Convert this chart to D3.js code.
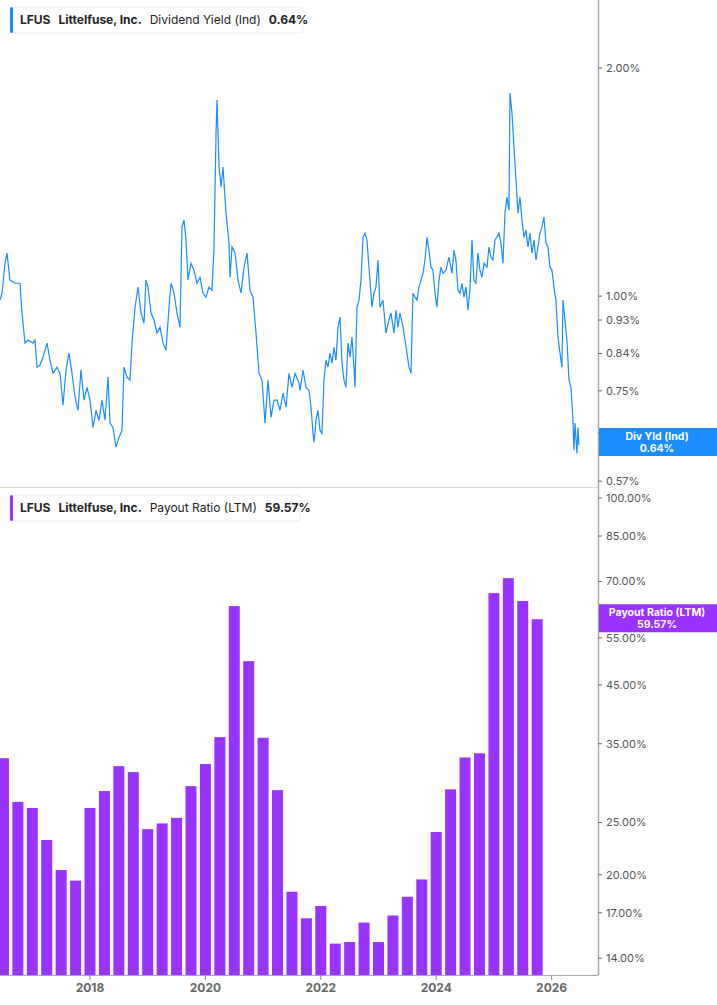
<!DOCTYPE html>
<html><head><meta charset="utf-8">
<script src="https://cdn.jsdelivr.net/npm/d3@7"></script>
<style>
body{margin:0;background:#fff;font-family:Inter,"Noto Sans",sans-serif;}
</style></head>
<body><div id="chart"></div>
<script>
// dividend yield (Ind), decimal year / percent
var yldYears = [2016.440,2016.475,2016.527,2016.561,2016.613,2016.700,2016.787,2016.821,2016.873,2016.925,2017.012,2017.047,2017.081,2017.133,2017.185,2017.255,2017.307,2017.359,2017.428,2017.480,2017.532,2017.584,2017.636,2017.688,2017.740,2017.792,2017.844,2017.896,2017.948,2018.000,2018.052,2018.104,2018.156,2018.208,2018.260,2018.312,2018.346,2018.398,2018.450,2018.502,2018.554,2018.589,2018.641,2018.693,2018.728,2018.780,2018.832,2018.884,2018.936,2018.970,2019.005,2019.057,2019.109,2019.161,2019.213,2019.265,2019.317,2019.369,2019.404,2019.456,2019.508,2019.560,2019.594,2019.629,2019.664,2019.698,2019.750,2019.802,2019.854,2019.906,2019.958,2020.010,2020.062,2020.114,2020.149,2020.184,2020.201,2020.236,2020.270,2020.305,2020.357,2020.409,2020.426,2020.461,2020.513,2020.565,2020.617,2020.669,2020.721,2020.773,2020.825,2020.877,2020.929,2020.981,2021.033,2021.085,2021.137,2021.189,2021.241,2021.293,2021.345,2021.397,2021.449,2021.501,2021.553,2021.622,2021.640,2021.692,2021.744,2021.796,2021.830,2021.865,2021.882,2021.917,2021.951,2021.986,2022.020,2022.055,2022.090,2022.124,2022.159,2022.194,2022.228,2022.263,2022.298,2022.332,2022.367,2022.402,2022.436,2022.471,2022.506,2022.540,2022.575,2022.592,2022.627,2022.662,2022.696,2022.731,2022.765,2022.800,2022.835,2022.887,2022.921,2022.956,2022.991,2023.025,2023.077,2023.129,2023.181,2023.216,2023.268,2023.303,2023.337,2023.372,2023.424,2023.459,2023.493,2023.528,2023.563,2023.597,2023.632,2023.667,2023.701,2023.736,2023.771,2023.805,2023.840,2023.875,2023.909,2023.944,2023.979,2024.013,2024.048,2024.083,2024.117,2024.169,2024.221,2024.273,2024.308,2024.342,2024.377,2024.412,2024.446,2024.481,2024.516,2024.550,2024.585,2024.620,2024.654,2024.689,2024.724,2024.758,2024.793,2024.828,2024.880,2024.914,2024.949,2024.984,2025.018,2025.053,2025.088,2025.122,2025.157,2025.192,2025.226,2025.261,2025.278,2025.313,2025.348,2025.382,2025.417,2025.452,2025.486,2025.521,2025.556,2025.590,2025.625,2025.660,2025.694,2025.729,2025.764,2025.798,2025.833,2025.867,2025.902,2025.937,2025.971,2026.006,2026.041,2026.075,2026.110,2026.145,2026.179,2026.197,2026.231,2026.266,2026.301,2026.335,2026.370,2026.387,2026.405,2026.439,2026.457,2026.474];
var yldValues = [0.988,1.009,1.105,1.140,1.050,1.040,1.040,0.950,0.867,0.875,0.867,0.875,0.806,0.811,0.831,0.867,0.823,0.791,0.806,0.791,0.718,0.799,0.841,0.791,0.736,0.707,0.799,0.729,0.758,0.729,0.671,0.707,0.686,0.729,0.686,0.782,0.680,0.671,0.632,0.651,0.665,0.806,0.782,0.775,0.867,0.967,1.028,0.950,0.921,1.050,1.028,0.950,0.930,0.894,0.910,0.867,0.849,0.967,1.040,1.009,0.950,0.910,1.233,1.260,1.186,1.050,1.105,1.082,1.040,1.059,1.009,0.997,1.028,1.018,1.161,1.641,1.815,1.480,1.393,1.480,1.287,1.175,1.059,1.161,1.140,1.050,1.009,1.092,1.140,1.018,0.997,0.894,0.791,0.775,0.680,0.775,0.692,0.729,0.729,0.707,0.745,0.714,0.791,0.758,0.791,0.768,0.751,0.799,0.758,0.751,0.714,0.659,0.641,0.686,0.707,0.665,0.659,0.775,0.823,0.806,0.841,0.816,0.856,0.823,0.910,0.938,0.816,0.775,0.758,0.867,0.831,0.883,0.806,0.758,0.967,0.988,1.050,1.196,1.211,1.186,1.092,0.967,1.009,1.028,1.116,0.967,0.988,0.894,0.930,0.950,0.894,0.958,0.910,0.950,0.910,0.875,0.841,0.806,0.791,1.009,0.997,0.988,1.028,1.050,1.072,1.116,1.196,1.150,1.092,1.082,1.009,0.967,1.050,1.092,1.072,1.082,1.126,1.072,1.150,1.116,1.018,1.009,1.040,0.997,1.028,0.958,1.018,1.186,1.050,1.040,1.140,1.082,1.059,1.105,1.092,1.161,1.126,1.116,1.186,1.196,1.211,1.175,1.105,1.287,1.351,1.299,1.853,1.744,1.573,1.423,1.287,1.351,1.260,1.196,1.222,1.161,1.211,1.140,1.186,1.116,1.161,1.211,1.233,1.272,1.175,1.161,1.092,1.082,1.028,0.988,0.883,0.841,0.806,0.988,0.930,0.875,0.775,0.758,0.686,0.626,0.680,0.620,0.671,0.636];

// payout ratio (LTM), quarter ends 2016 Q2 .. 2025 Q3
var payQuarters = d3.range(38).map(function (i) { return 2016.5 + i * 0.25; });
var payValues = [32.9,27.3,26.6,23.2,20.4,19.5,26.6,28.6,31.8,31.0,24.3,24.9,25.5,29.2,32.1,36.0,63.0,49.8,35.9,28.7,18.6,16.6,17.5,14.9,15.0,16.3,15.0,16.8,18.2,19.6,24.0,28.8,33.0,33.6,66.6,71.0,64.4,59.57];

var yldTicks = [2.00, 1.00, 0.93, 0.84, 0.75, 0.66, 0.57];
var payTicks = [100, 85, 70, 55, 45, 35, 25, 20, 17, 14];
var yearTicks = [2018, 2020, 2022, 2024, 2026];

var W = 717, H = 1005, plotR = 598;
var blue = '#1a8cff', purple = '#9933ff', axisCol = '#555';

var svg = d3.select('#chart').append('svg').attr('width', W).attr('height', H);

var x = d3.scaleLinear().domain([2016.44, 2016.44 + plotR / 57.7]).range([0, plotR]);
var yTop = d3.scaleLog().domain([0.560, 2.459]).range([487, 0]);
var yBot = d3.scaleLog().domain([13.03, 100]).range([975, 498]);

// bars
svg.append('g').selectAll('rect')
    .data(payValues)
  .enter().append('rect')
    .attr('x', function (d, i) { return x(payQuarters[i]) - 5.5; })
    .attr('width', 11)
    .attr('y', function (d) { return yBot(d); })
    .attr('height', function (d) { return 975 - yBot(d); })
    .attr('fill', purple);

// line
var line = d3.line()
    .x(function (d, i) { return x(yldYears[i]); })
    .y(function (d) { return yTop(d); });
svg.append('path')
    .datum(yldValues)
    .attr('d', line)
    .attr('fill', 'none')
    .attr('stroke', blue)
    .attr('stroke-width', 1.2);

// separators / axis lines
svg.append('line').attr('x1', 0).attr('x2', plotR).attr('y1', 487.5).attr('y2', 487.5).attr('stroke', '#ddd');
svg.append('line').attr('x1', plotR + 0.5).attr('x2', plotR + 0.5).attr('y1', 0).attr('y2', 975).attr('stroke', '#aaa').attr('stroke-width', 1.5);
svg.append('line').attr('x1', 0).attr('x2', plotR).attr('y1', 975.5).attr('y2', 975.5).attr('stroke', '#aaa');

function rightTicks(scale, ticks, fmt) {
  var g = svg.append('g');
  ticks.forEach(function (t) {
    var yy = scale(t);
    g.append('line').attr('x1', plotR).attr('x2', plotR + 4).attr('y1', yy).attr('y2', yy).attr('stroke', '#666');
    g.append('text').attr('x', plotR + 8).attr('y', yy).attr('dy', '0.35em')
      .style('font-size', '11px').style('fill', axisCol).text(fmt(t));
  });
}
rightTicks(yTop, yldTicks, function (t) { return t.toFixed(2) + '%'; });
rightTicks(yBot, payTicks, function (t) { return t.toFixed(2) + '%'; });

// year ticks
yearTicks.forEach(function (t) {
  svg.append('line').attr('x1', x(t)).attr('x2', x(t)).attr('y1', 975).attr('y2', 980).attr('stroke', '#888');
  svg.append('text').attr('x', x(t)).attr('y', 992).attr('text-anchor', 'middle')
    .style('font-size', '12px').style('font-weight', 'bold').style('fill', '#666').text(t);
});

// value flags (cover the tick behind them, as in the original)
function flag(yc, col, l1, l2) {
  svg.append('rect').attr('x', plotR + 1).attr('y', yc - 15).attr('width', W - plotR).attr('height', 28).attr('fill', col);
  svg.append('text').attr('x', 657).attr('y', yc - 3).attr('text-anchor', 'middle')
    .style('font-size', '10.5px').style('font-weight', 'bold').style('fill', '#fff').text(l1);
  svg.append('text').attr('x', 657).attr('y', yc + 9).attr('text-anchor', 'middle')
    .style('font-size', '10.5px').style('font-weight', 'bold').style('fill', '#fff').text(l2);
}
flag(yTop(0.64), blue, 'Div Yld (Ind)', '0.64%');
flag(yBot(59.57), purple, 'Payout Ratio (LTM)', '59.57%');

// legends
function legend(y0, col, metric, val, w) {
  var g = svg.append('g').attr('transform', 'translate(10,' + y0 + ')');
  g.append('rect').attr('width', w).attr('height', 26).attr('rx', 3).attr('fill', '#fff').attr('stroke', '#eee');
  g.append('rect').attr('width', 3).attr('height', 26).attr('rx', 1.5).attr('fill', col);
  var t = g.append('text').attr('x', 10).attr('y', 17).style('font-size', '12px').style('fill', '#222');
  t.append('tspan').style('font-weight', 'bold').text('LFUS');
  t.append('tspan').attr('dx', 8).style('font-weight', 'bold').text('Littelfuse, Inc.');
  t.append('tspan').attr('dx', 8).text(metric);
  t.append('tspan').attr('dx', 8).style('font-weight', 'bold').text(val);
}
legend(7, blue, 'Dividend Yield (Ind)', '0.64%', 293);
legend(495, purple, 'Payout Ratio (LTM)', '59.57%', 290);
</script></body></html>
